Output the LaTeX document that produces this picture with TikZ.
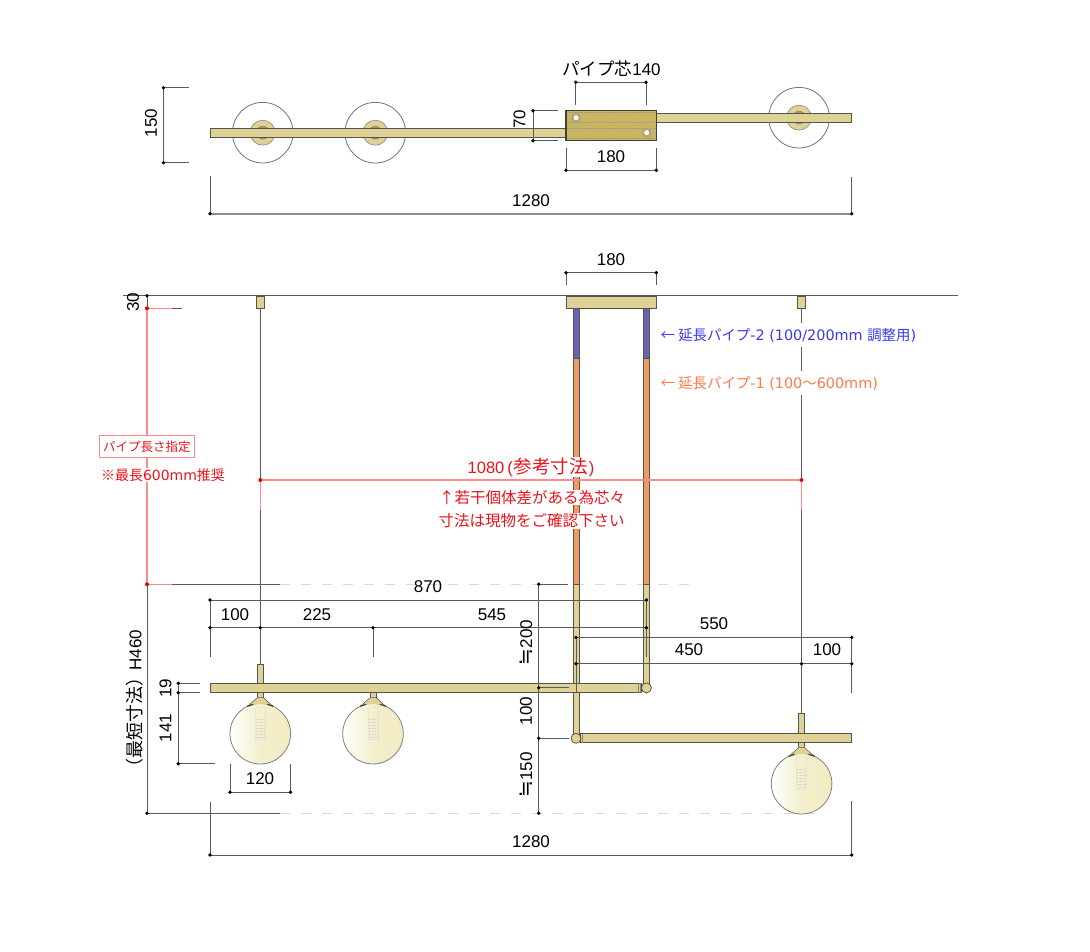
\documentclass[tikz,border=0pt]{standalone}
\usepackage{fontspec}
\setmainfont{Liberation Sans}
\newfontfamily\cjk{Noto Sans CJK JP}
\newfontfamily\djv{DejaVu Sans}
\usetikzlibrary{calc}
\definecolor{brass}{HTML}{DFD297}
\definecolor{brassd}{HTML}{C9B55F}
\definecolor{edge}{HTML}{55554A}
\definecolor{dimg}{HTML}{5A5A5A}
\definecolor{purp}{HTML}{6A62B5}
\definecolor{orng}{HTML}{EE9A62}
\definecolor{redl}{HTML}{FF8A8A}
\definecolor{redt}{HTML}{E8141C}
\definecolor{bluet}{HTML}{3A3AF0}
\definecolor{orgt}{HTML}{FF7A4A}
\definecolor{globe}{HTML}{F1ECC2}
\tikzset{
  x=1pt,y=-1pt,
  dim/.style={draw=dimg,line width=0.95pt},
  dimk/.style={draw=black!45,line width=1.7pt},
  red line/.style={draw=redl,line width=1.15pt},
  part/.style={draw=edge,line width=0.8pt,fill=brass},
  ghost/.style={draw=black!15,line width=1pt,dash pattern=on 10pt off 11pt},
  dot/.style={circle,fill=black,inner sep=0pt,minimum size=3.8pt},
  rdot/.style={circle,fill=red!95!black,inner sep=0pt,minimum size=4pt},
  lab/.style={font=\fontsize{17}{18}\selectfont,inner sep=0pt},
  vlab/.style={lab,rotate=90},
  rednote/.style={font=\cjk\fontsize{15.5}{18}\selectfont,text=redt,fill=white,inner sep=0.5pt},
  pipenote/.style={font=\cjk\fontsize{14.4}{16}\selectfont,fill=white,inner sep=1pt,anchor=west,minimum height=24pt},
}
\newcommand{\plan}[2]{% centre x, centre y
  \draw[black!55,line width=0.8pt,fill=white] (#1,#2) circle (30.3);
  \fill[brass,draw=edge!70,line width=0.6pt] (#1,#2) circle (12.5);
  \fill[brassd!70!black!80,draw=edge!70,line width=0.5pt] (#1,#2) circle (6.5);
}
\newcommand{\lamp}[2]{% centre x, centre y of the globe
  \shade[left color=white,right color=globe,middle color=globe!85] (#1,#2) circle (30.3);
  \draw[black!50,line width=0.8pt] (#1,#2) circle (30.3);
  \draw[black!12,line width=0.5pt,densely dotted] ($(#1,#2)+(-5,-26)$) rectangle ($(#1,#2)+(5,6)$);
  \foreach \d in {-14,-11,...,6}{\draw[black!18,line width=0.6pt,densely dotted] ($(#1,#2)+(-4.5,\d)$) -- ($(#1,#2)+(4.5,\d)$);}
  \fill[brass,draw=edge,line width=0.6pt] ($(#1,#2)+(-3,-41)$) rectangle ($(#1,#2)+(3,-36)$);
  \fill[brass] ($(#1,#2)+(-3,-36)$) -- ($(#1,#2)+(-12.5,-27.6)$) .. controls ($(#1,#2)+(-4,-30.5)$) and ($(#1,#2)+(4,-30.5)$) .. ($(#1,#2)+(12.5,-27.6)$) -- ($(#1,#2)+(3,-36)$) -- cycle;
  \draw[edge,line width=0.5pt] ($(#1,#2)+(-3,-36)$) -- ($(#1,#2)+(-12.5,-27.6)$);
  \draw[edge,line width=0.5pt] ($(#1,#2)+(3,-36)$) -- ($(#1,#2)+(12.5,-27.6)$);
  \draw[black!75,line width=1.2pt] ($(#1,#2)+(-13,-27.4)$) -- ($(#1,#2)+(-7,-29.4)$);
  \draw[black!75,line width=1.2pt] ($(#1,#2)+(13,-27.4)$) -- ($(#1,#2)+(7,-29.4)$);
}
\begin{document}
\begin{tikzpicture}
\useasboundingbox (0,0) rectangle (1090,952);
\fill[white] (0,0) rectangle (1090,952);

%%%%%%%% plan view
\plan{262.7}{132.7}
\plan{375.3}{132.7}
\plan{799}{117.7}
\draw[part] (210,128.3) rectangle (566,137.7);
\draw[part] (656,113) rectangle (851.7,122.3);
\draw[draw=black!75,line width=1.1pt,fill=brassd] (566,110.7) rectangle (656.3,140.7);
\foreach \yy in {112.5,122,128.3,138.5}{\draw[black!40,line width=0.5pt,densely dotted] (567,\yy) -- (655.5,\yy);}
\draw[brass!40!brassd!85!black,line width=1pt] (576,117.7) circle (4.5);
\draw[brass!40!brassd!85!black,line width=1pt] (646.7,132.7) circle (4.5);
\fill[white,draw=black!50,line width=0.4pt] (576,117.7) circle (3);
\fill[white,draw=black!50,line width=0.4pt] (646.7,132.7) circle (3);

% plan dimensions
\draw[dim] (189,87.7) -- (163.5,87.7) -- (163.5,162.7) -- (189,162.7);
\node[dot] at (163.5,87.7) {}; \node[dot] at (163.5,162.7) {};
\node[vlab] (d150) at (151,123) {150};
\draw[dim] (575.7,105) -- (575.7,82.3) -- (646,82.3) -- (646,105);
\node[dot] at (575.7,82.3) {}; \node[dot] at (646,82.3) {};
\node[lab] (dpipe) at (611.5,68.5) {{\cjk\fontsize{17.5}{18}\selectfont パイプ芯}140};
\draw[dim] (558,110.7) -- (533,110.7) -- (533,140.7) -- (558,140.7);
\node[dot] at (533,110.7) {}; \node[dot] at (533,140.7) {};
\node[vlab] (d70) at (519.5,119) {70};
\draw[dim] (566,148) -- (566,170.3) -- (656.3,170.3) -- (656.3,148);
\node[dot] at (566,170.3) {}; \node[dot] at (656.3,170.3) {};
\node[lab] (d180a) at (611,157) {180};
\draw[dim] (210,176) -- (210,213.7);
\draw[dim] (851.7,177) -- (851.7,213.7);
\draw[dimk] (210,213.7) -- (851.7,213.7);
\node[dot] at (210,213.7) {}; \node[dot] at (851.7,213.7) {};
\node[lab] (d1280a) at (531,200.5) {1280};

%%%%%%%% elevation: cords
\draw[dim] (260.3,308) -- (260.3,664);
\draw[dim] (801.5,308) -- (801.5,714);

% ghost lines
\draw[ghost] (280,584.3) -- (690,584.3);
\draw[ghost] (280,813.3) -- (826,813.3);

% pipes
\foreach \px in {573,643.3}{
  \draw[part,fill=purp] (\px,308) rectangle ++(6.4,50.3);
  \draw[part,fill=orng] (\px,358.3) rectangle ++(6.4,226);
}
\draw[part] (573,584.3) rectangle (579.4,738);
\draw[part] (643.3,584.3) rectangle (649.7,687);

% ceiling
\draw[dim] (123,295.7) -- (958,295.7);
\draw[part] (566,296) rectangle (656.3,308.3);
\draw[part] (256.7,296) rectangle (264.3,308.3);
\draw[part] (797.7,296) rectangle (805.4,308.3);

% bars and lamps
\lamp{260.3}{733.7}
\lamp{373}{733.7}
\lamp{801.6}{783.7}
\draw[part] (257.3,664) rectangle (263.3,683.3);
\draw[part] (798.6,713.7) rectangle (804.6,733.7);
\draw[part] (210,683.3) rectangle (641.5,692.7);
\draw[edge!70,line width=0.5pt] (638,683.3) -- (638,692.7) (640,683.3) -- (640,692.7);
\draw[part] (580.5,733.7) rectangle (851.7,742.7);
\draw[edge!70,line width=0.5pt] (582.5,733.7) -- (582.5,742.7);
\draw[part] (646.4,687.9) circle (5);
\draw[part] (576,738.3) circle (5);

% top dims
\draw[dim] (566,285) -- (566,272.7) -- (656.3,272.7) -- (656.3,285);
\node[dot] at (566,272.7) {}; \node[dot] at (656.3,272.7) {};
\node[lab] (d180b) at (611,260) {180};

% labels with a white back
\node[pipenote,text=bluet] (pipe2) at (659.5,335) {← 延長パイプ{\djv -2 (100/200mm }調整用{\djv )}};
\node[pipenote,text=orgt] (pipe1) at (659.5,383) {← 延長パイプ{\djv -1 (100}～{\djv 600mm)}};

% red dims
\draw[red line] (147,308.3) -- (147,584.3);
\draw[dim] (147,295.7) -- (147,308.3);
\draw[red line] (147,308.3) -- (171.7,308.3);
\draw[dim] (171.7,308.3) -- (181.7,308.3);
\node[dot] at (147,295.7) {};
\node[rdot] at (147,308.3) {};
\draw[red line] (147,584.3) -- (171.7,584.3);
\draw[dim] (171.7,584.3) -- (280,584.3);
\node[rdot] at (147,584.3) {};
\draw[dim] (147,584.3) -- (147,813.3) -- (280,813.3);
\node[dot] at (147,813.3) {};
\node[vlab] (d30) at (133,302) {30};
\node[vlab] (dH) at (134.5,703) {{\cjk\fontsize{18}{18}\selectfont （最短寸法）}\kern-2pt H460};

\draw[red line] (260.3,480) -- (801.5,480);
\draw[red line] (260.3,480) -- (260.3,510);
\draw[red line] (801.5,480) -- (801.5,510);
\node[rdot] at (260.3,480) {};
\node[rdot] at (801.5,480) {};
\node[rednote,font=\fontsize{16.5}{18}\selectfont] (n1080) at (531,467) {1080\kern3pt ({\kern1pt\cjk\fontsize{18.5}{18}\selectfont 参考寸法\kern1pt})};
\node[rednote] (n1) at (532,497.5) {↑若干個体差がある為芯々};
\node[rednote] (n2) at (531.5,521) {寸法は現物をご確認下さい};
\node[font=\cjk\fontsize{12.5}{14}\selectfont,text=redt,draw=redl,fill=white,line width=1pt,minimum width=95pt,minimum height=21.5pt,inner sep=0pt] (spec) at (146.8,446.5) {パイプ長さ指定};
\node[font=\cjk\fontsize{14}{16}\selectfont,text=redt,fill=white,inner sep=1pt] (mx) at (163,475) {※最長{\djv 600mm}推奨};

% horizontal dims
\draw[dim] (210,657) -- (210,600) -- (646.4,600) -- (646.4,657);
\node[dot] at (646.4,600) {};\node[dot] at (210,600) {};
\node[lab] (d870) at (428,587) {870};
\draw[dim] (210,627.7) -- (646.4,627.7);
\draw[dim] (373,627.7) -- (373,657);
\foreach \xx in {210,260.3,373,646.4}{\node[dot] at (\xx,627.7) {};}
\node[lab] (d100a) at (235,614.5) {100};
\node[lab] (d225) at (317,614.5) {225};
\node[lab] (d545) at (492,614.5) {545};
\draw[dim] (576,637.7) -- (576,692);
\draw[dim] (851.7,693) -- (851.7,637.5) -- (576,637.5);
\draw[dim] (576,663.7) -- (851.7,663.7);
\foreach \xx/\yy in {576/637.5,576/663.7,801.5/663.7,851.7/637.5,851.7/663.7}{\node[dot] at (\xx,\yy) {};}
\node[lab] (d550) at (714,624) {550};
\node[lab] (d450) at (689,650) {450};
\node[lab] (d100b) at (827,650) {100};

% drop dims
\draw[dim] (568,584.3) -- (538.7,584.3) -- (538.7,813.3);
\draw[dim] (538.7,687.7) -- (569,687.7);
\draw[dim] (538.7,738.3) -- (569,738.3);
\foreach \yy in {584.3,687.7,738.3,813.3}{\node[dot] at (538.7,\yy) {};}
\node[vlab] (d200) at (526,642.5) {{\djv\fontsize{20}{20}\selectfont ≒}200};
\node[vlab] (d100c) at (526,711) {100};
\node[vlab] (d150b) at (526,775) {{\djv\fontsize{20}{20}\selectfont ≒}150};

% lamp dims
\draw[dim] (200,683.3) -- (178.3,683.3) -- (178.3,763.7) -- (215,763.7);
\draw[dim] (178.3,692.7) -- (200,692.7);
\foreach \yy in {683.3,692.7,763.7}{\node[dot] at (178.3,\yy) {};}
\node[vlab] (d19) at (165.5,688) {19};
\node[vlab] (d141) at (165.5,728) {141};
\draw[dim] (230,764.3) -- (230,792.3) -- (290.5,792.3) -- (290.5,764.3);
\node[dot] at (230,792.3) {}; \node[dot] at (290.5,792.3) {};
\node[lab] (d120) at (260,779) {120};

\draw[dim] (210,801.7) -- (210,855);
\draw[dim] (851.7,801) -- (851.7,855);
\draw[dim] (210,855) -- (851.7,855);
\node[dot] at (210,855) {}; \node[dot] at (851.7,855) {};
\node[lab] (d1280b) at (531,842) {1280};
\end{tikzpicture}
\end{document}
